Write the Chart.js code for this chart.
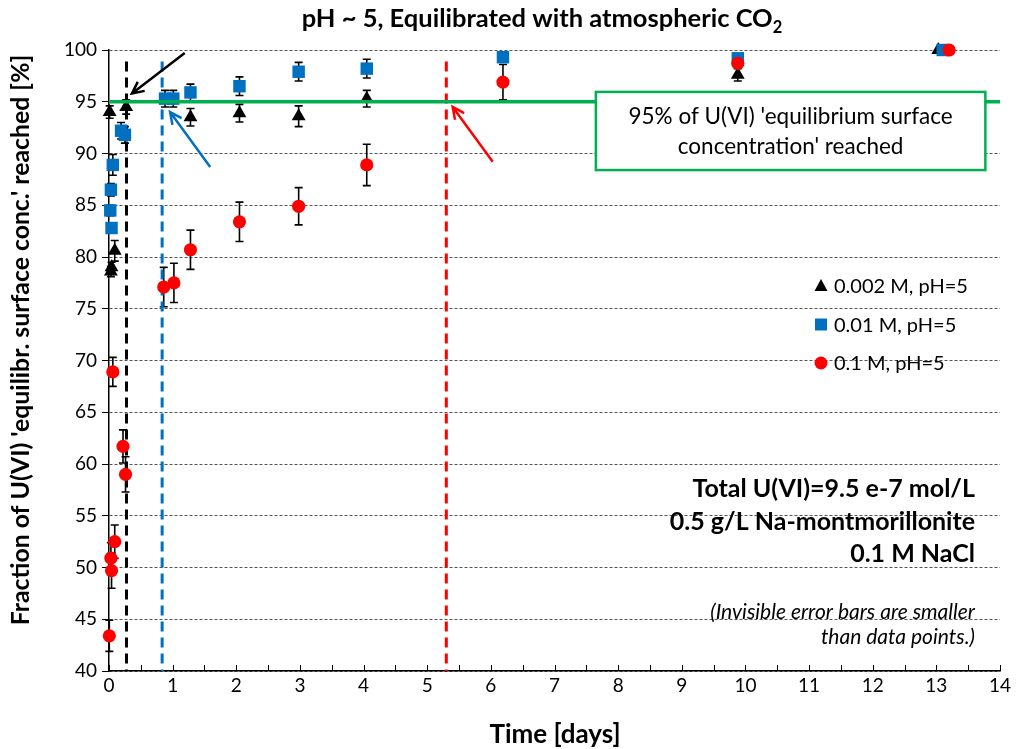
<!DOCTYPE html>
<html>
<head>
<meta charset="utf-8">
<script src="https://cdn.jsdelivr.net/npm/chart.js@4"></script>
<style>
  html, body { margin: 0; padding: 0; background: #fff; }
  #wrap { width: 1016px; height: 749px; }
</style>
</head>
<body>
<div id="wrap"><canvas id="chart" width="1016" height="749"></canvas></div>
<script>
const FONT = 'Lato, "Open Sans", sans-serif';

// 0.002 M, pH=5
const timeLow = [0.01, 0.03, 0.04, 0.09, 0.27, 1.28, 2.05, 2.98, 4.05, 9.88, 13.03];
const fracLow = [94.0, 78.6, 79.0, 80.6, 94.5, 93.5, 93.9, 93.6, 95.3, 97.6, 100];
const errLow  = [0.6, 0.5, 0.5, 1.0, 0.7, 0.85, 0.85, 1.0, 0.8, 0.6, 0];

// 0.01 M, pH=5
const timeMid = [0.02, 0.03, 0.04, 0.06, 0.19, 0.25, 0.88, 1.01, 1.28, 2.05, 2.98, 4.05, 6.19, 9.88, 13.1];
const fracMid = [84.5, 86.5, 82.8, 88.9, 92.2, 91.8, 95.3, 95.3, 95.9, 96.5, 97.9, 98.2, 99.3, 99.2, 100];
const errMid  = [0.5, 0.6, 0.5, 1.0, 0.8, 0.8, 0.8, 0.8, 0.8, 0.9, 0.9, 0.9, 0.4, 0.4, 0];

// 0.1 M, pH=5
const timeHigh = [0.005, 0.03, 0.04, 0.09, 0.06, 0.22, 0.26, 0.86, 1.02, 1.28, 2.05, 2.98, 4.05, 6.19, 9.88, 13.2];
const fracHigh = [43.4, 50.9, 49.7, 52.5, 68.9, 61.7, 59.0, 77.1, 77.5, 80.7, 83.4, 84.9, 88.9, 96.9, 98.7, 100];
const errHigh  = [1.5, 1.5, 1.7, 1.6, 1.4, 1.6, 1.7, 1.9, 1.9, 1.9, 1.9, 1.8, 2.0, 1.7, 0.4, 0];

const seriesLabels = ['0.002 M, pH=5', '0.01 M, pH=5', '0.1 M, pH=5'];
const seriesColors = ['#000000', '#0070C0', '#FF0000'];

// 95 % level and the time at which each series crosses it
const equilibriumLevel = 95;
const crossingTimes = [0.275, 0.835, 5.3];
const crossingTop = 98.9;

// arrows pointing at the crossings: [time, fraction]
const arrowTails = [[1.19, 99.7], [1.59, 88.7], [6.03, 89.2]];
const arrowHeads = [[0.36, 95.8], [0.96, 94.0], [5.40, 94.5]];

// annotation box corners: [time, fraction]
const noteBox = [[7.65, 95.95], [13.77, 88.4]];
const noteLines = ["95% of U(VI) 'equilibrium surface", "concentration' reached"];

const infoLines = ['Total U(VI)=9.5 e-7 mol/L', '0.5 g/L Na-montmorillonite', '0.1 M NaCl'];
const footLines = ['(Invisible error bars are smaller', 'than data points.)'];

const toPoints = (xs, ys) => xs.map((x, i) => ({ x, y: ys[i] }));

function markerSet(idx, xs, ys, errs, style, radius, order) {
  return {
    type: 'scatter',
    label: seriesLabels[idx],
    data: toPoints(xs, ys),
    errs: errs,
    pointStyle: style,
    pointRadius: radius,
    pointHoverRadius: radius,
    backgroundColor: seriesColors[idx],
    borderColor: seriesColors[idx],
    borderWidth: 0,
    order: order,
    clip: false
  };
}

function verticalSet(t, color) {
  return {
    type: 'line',
    data: [{ x: t, y: crossingTop }, { x: t, y: 40 }],
    borderColor: color,
    borderWidth: 3,
    borderDash: [10, 6],
    pointRadius: 0,
    order: 10,
    clip: false
  };
}

const errorBars = {
  id: 'errorBars',
  beforeDatasetsDraw(chart) {
    const { ctx, scales: { x, y } } = chart;
    ctx.save();
    ctx.strokeStyle = '#000';
    ctx.lineWidth = 1.6;
    chart.data.datasets.forEach(ds => {
      if (!ds.errs) return;
      ds.data.forEach((p, i) => {
        const e = ds.errs[i];
        if (!e) return;
        const px = x.getPixelForValue(p.x);
        const y1 = y.getPixelForValue(p.y + e);
        const y2 = y.getPixelForValue(p.y - e);
        ctx.beginPath();
        ctx.moveTo(px, y1); ctx.lineTo(px, y2);
        ctx.moveTo(px - 4, y1); ctx.lineTo(px + 4, y1);
        ctx.moveTo(px - 4, y2); ctx.lineTo(px + 4, y2);
        ctx.stroke();
      });
    });
    ctx.restore();
  }
};

function drawArrow(ctx, x1, y1, x2, y2, color) {
  const ang = Math.atan2(y2 - y1, x2 - x1);
  const head = 13, spread = 0.45;
  ctx.save();
  ctx.strokeStyle = color;
  ctx.lineWidth = 2.5;
  ctx.beginPath();
  ctx.moveTo(x1, y1); ctx.lineTo(x2, y2);
  ctx.moveTo(x2 - head * Math.cos(ang - spread), y2 - head * Math.sin(ang - spread));
  ctx.lineTo(x2, y2);
  ctx.lineTo(x2 - head * Math.cos(ang + spread), y2 - head * Math.sin(ang + spread));
  ctx.stroke();
  ctx.restore();
}

function drawMarker(ctx, style, cx, cy, color) {
  ctx.save();
  ctx.fillStyle = color;
  ctx.beginPath();
  if (style === 'triangle') {
    ctx.moveTo(cx, cy - 7); ctx.lineTo(cx + 6.5, cy + 5); ctx.lineTo(cx - 6.5, cy + 5);
    ctx.closePath();
  } else if (style === 'rect') {
    ctx.rect(cx - 6, cy - 6, 12, 12);
  } else {
    ctx.arc(cx, cy, 6.5, 0, Math.PI * 2);
  }
  ctx.fill();
  ctx.restore();
}

const decorations = {
  id: 'decorations',
  afterDraw(chart) {
    const { ctx, chartArea: ca, scales: { x, y } } = chart;

    // inward minor ticks along the time axis
    ctx.save();
    ctx.strokeStyle = '#000';
    ctx.lineWidth = 1;
    for (let t = 0; t <= 14.001; t += 0.5) {
      const px = Math.round(x.getPixelForValue(t)) + 0.5;
      ctx.beginPath();
      ctx.moveTo(px, ca.bottom); ctx.lineTo(px, ca.bottom - 6);
      ctx.stroke();
    }
    ctx.restore();

    // arrows
    const arrowColors = ['#000000', '#0070C0', '#FF0000'];
    arrowTails.forEach((t, i) => {
      const h = arrowHeads[i];
      drawArrow(ctx, x.getPixelForValue(t[0]), y.getPixelForValue(t[1]),
        x.getPixelForValue(h[0]), y.getPixelForValue(h[1]), arrowColors[i]);
    });

    // annotation box
    const bx1 = x.getPixelForValue(noteBox[0][0]), by1 = y.getPixelForValue(noteBox[0][1]);
    const bx2 = x.getPixelForValue(noteBox[1][0]), by2 = y.getPixelForValue(noteBox[1][1]);
    ctx.save();
    ctx.fillStyle = '#fff';
    ctx.fillRect(bx1, by1, bx2 - bx1, by2 - by1);
    ctx.strokeStyle = '#00B050';
    ctx.lineWidth = 2.5;
    ctx.strokeRect(bx1, by1, bx2 - bx1, by2 - by1);
    ctx.fillStyle = '#000';
    ctx.font = '22.5px ' + FONT;
    ctx.textAlign = 'center';
    ctx.textBaseline = 'middle';
    const bcx = (bx1 + bx2) / 2;
    ctx.fillText(noteLines[0], bcx, by1 + 25);
    ctx.fillText(noteLines[1], bcx, by1 + 55);
    ctx.restore();

    // legend
    const legStyles = ['triangle', 'rect', 'circle'];
    ctx.save();
    ctx.font = '20px ' + FONT;
    ctx.textBaseline = 'middle';
    ctx.textAlign = 'left';
    seriesLabels.forEach((lab, i) => {
      const ly = ca.top + 236 + i * 38.5;
      drawMarker(ctx, legStyles[i], ca.left + 712, ly, seriesColors[i]);
      ctx.fillStyle = '#000';
      ctx.fillText(lab, ca.left + 725, ly + 1);
    });
    ctx.restore();

    // sample composition
    ctx.save();
    ctx.fillStyle = '#000';
    ctx.textAlign = 'right';
    ctx.textBaseline = 'middle';
    ctx.font = 'bold 25px ' + FONT;
    infoLines.forEach((s, i) => ctx.fillText(s, ca.left + 866, ca.top + 439 + i * 32.5));
    ctx.font = 'italic 21px ' + FONT;
    footLines.forEach((s, i) => ctx.fillText(s, ca.left + 866, ca.top + 562 + i * 25));
    ctx.restore();

    // title with subscript
    ctx.save();
    ctx.fillStyle = '#000';
    ctx.textBaseline = 'alphabetic';
    ctx.textAlign = 'left';
    const main = 'pH ~ 5, Equilibrated with atmospheric CO';
    ctx.font = 'bold 25.5px ' + FONT;
    const wMain = ctx.measureText(main).width;
    ctx.font = 'bold 16.5px ' + FONT;
    const wSub = ctx.measureText('2').width;
    const tx = 542 - (wMain + wSub) / 2;
    ctx.font = 'bold 25.5px ' + FONT;
    ctx.fillText(main, tx, 27);
    ctx.font = 'bold 16.5px ' + FONT;
    ctx.fillText('2', tx + wMain, 33);
    ctx.restore();

    // axis titles
    ctx.save();
    ctx.fillStyle = '#000';
    ctx.textAlign = 'center';
    ctx.textBaseline = 'middle';
    ctx.font = 'bold 26px ' + FONT;
    ctx.fillText('Time [days]', 555, 735);
    ctx.translate(21, 340);
    ctx.rotate(-Math.PI / 2);
    ctx.font = 'bold 24.8px ' + FONT;
    ctx.fillText("Fraction of U(VI) 'equilibr. surface conc.' reached [%]", 0, 0);
    ctx.restore();
  }
};

new Chart(document.getElementById('chart'), {
  data: {
    datasets: [
      {
        type: 'line',
        data: [{ x: 0, y: equilibriumLevel }, { x: 14, y: equilibriumLevel }],
        borderColor: '#00B050',
        borderWidth: 3.5,
        pointRadius: 0,
        order: 0,
        clip: false
      },
      markerSet(2, timeHigh, fracHigh, errHigh, 'circle', 6.6, 1),
      markerSet(1, timeMid, fracMid, errMid, 'rect', 8.8, 2),
      markerSet(0, timeLow, fracLow, errLow, 'triangle', 8, 3),
      verticalSet(crossingTimes[0], '#000000'),
      verticalSet(crossingTimes[1], '#0070C0'),
      verticalSet(crossingTimes[2], '#FF0000')
    ]
  },
  options: {
    responsive: false,
    animation: false,
    layout: { padding: { top: 50, right: 16, left: 0, bottom: 0 } },
    plugins: { legend: { display: false }, tooltip: { enabled: false }, title: { display: false } },
    scales: {
      x: {
        type: 'linear',
        min: 0, max: 14,
        afterFit: s => { s.height = 78; },
        grid: { display: false, drawTicks: false },
        border: { display: true, color: '#000', width: 1.5 },
        ticks: { stepSize: 1, padding: 3, color: '#000', font: { family: FONT, size: 19 } }
      },
      y: {
        type: 'linear',
        min: 40, max: 100,
        afterFit: s => { s.width = 109; },
        grid: { color: '#555', lineWidth: 1, tickLength: 7, tickColor: '#000', tickBorderDash: [0, 0] },
        border: { display: true, color: '#000', width: 1.5, dash: [3, 2] },
        ticks: { stepSize: 5, padding: 5, color: '#000', font: { family: FONT, size: 19 } }
      }
    }
  },
  plugins: [errorBars, decorations]
});
</script>
</body>
</html>
